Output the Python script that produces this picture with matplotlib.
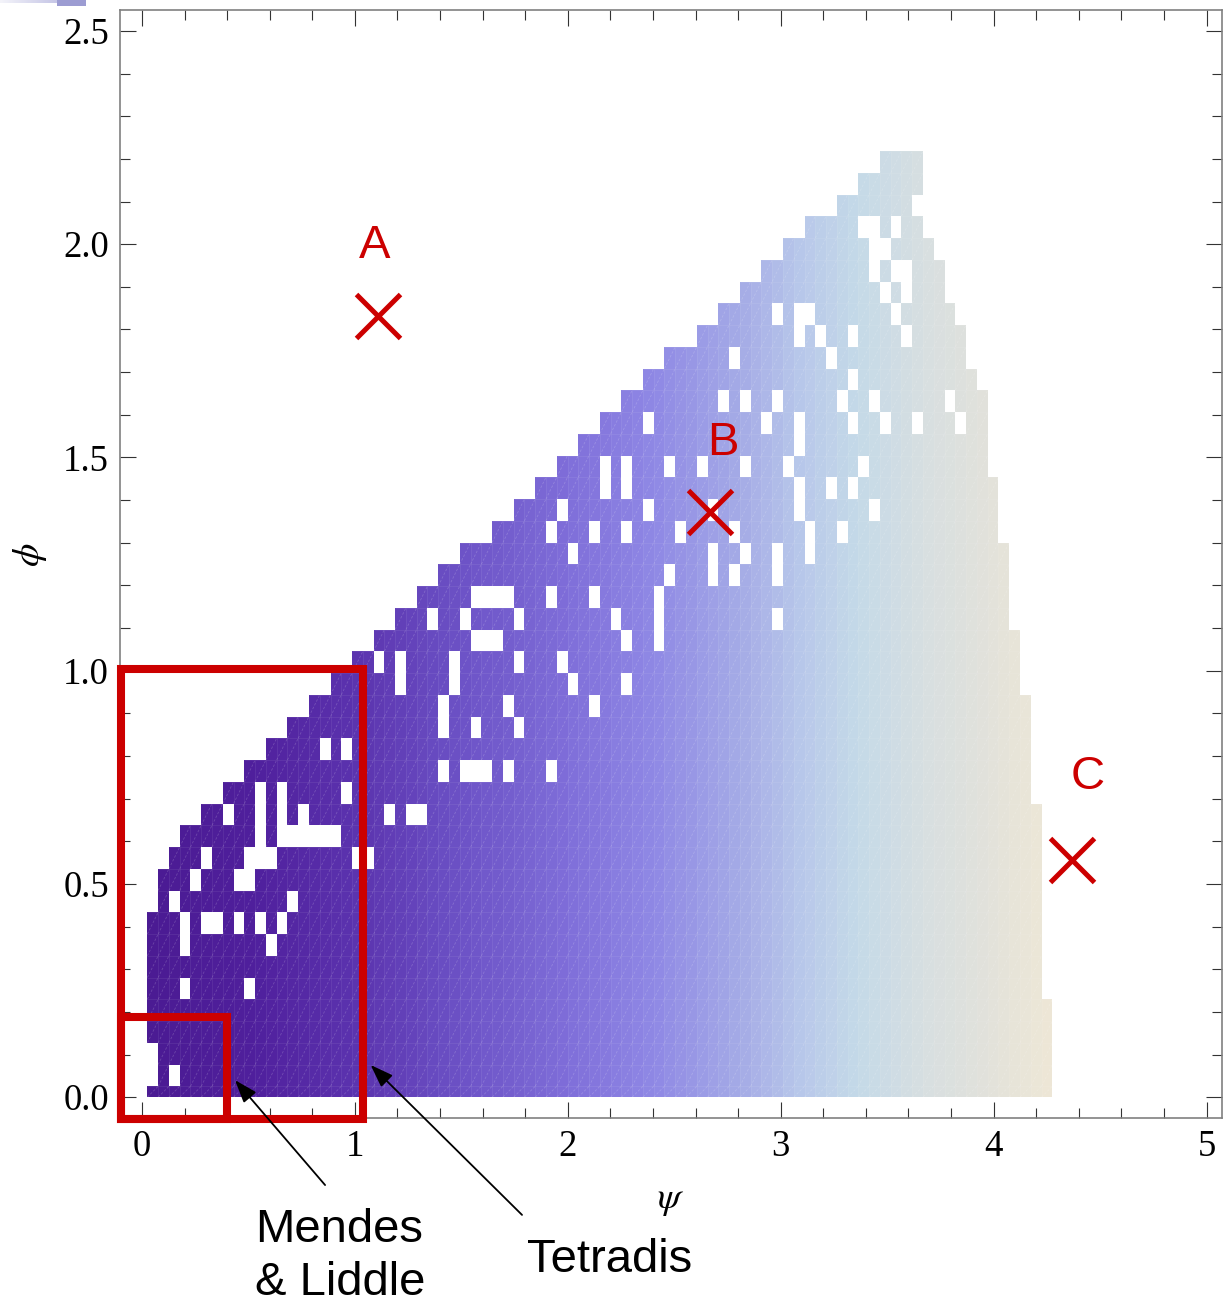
import numpy as np
import matplotlib
matplotlib.use("Agg")
import matplotlib.pyplot as plt
from matplotlib.colors import LinearSegmentedColormap, Normalize
from matplotlib.collections import LineCollection
from matplotlib.patches import Rectangle
from matplotlib.ticker import MultipleLocator, FormatStrFormatter

plt.rcParams["mathtext.fontset"] = "stix"

# grid spacing of the allowed-region scan (psi along x, phi along y)
DPSI = 0.0506
DPHI = 0.0510

# for each phi row j: first and last allowed psi column k
row_start = [1, 2, 2, 1, 1, 1, 1, 1, 1, 2, 2, 3, 4, 6, 8, 10, 12, 14, 16, 18, 20, 22,
             24, 26, 28, 30, 33, 35, 37, 39, 41, 43, 45, 47, 49, 52, 54, 56, 58, 60, 62,
             65, 67, 69]
row_end = [84, 84, 84, 84, 84, 83, 83, 83, 83, 83, 83, 83, 83, 83, 82, 82, 82, 82, 82,
           81, 81, 81, 80, 80, 80, 80, 79, 79, 79, 78, 78, 78, 78, 77, 76, 76, 75, 74,
           74, 73, 72, 71, 72, 72]

# points inside the band that failed the scan
holes_by_row = {
    1: [3],
    5: [4, 10],
    7: [4, 12],
    8: [4, 6, 7, 9, 11, 13],
    9: [3, 14],
    10: [5, 9, 10],
    11: [6, 10, 11, 12, 20, 21],
    12: [11, 13, 14, 15, 16, 17, 18],
    13: [8, 11, 13, 15, 23, 25, 26],
    14: [11, 13, 19],
    15: [28, 30, 31, 32, 34, 38],
    16: [17, 19],
    17: [28, 31, 35],
    18: [28, 34, 42],
    19: [24, 29, 40, 45],
    20: [22, 24, 29, 35, 39],
    21: [31, 32, 33, 45, 48],
    22: [27, 30, 35, 44, 48, 59],
    23: [31, 32, 33, 34, 38, 42, 48],
    24: [49, 53, 55, 59],
    25: [40, 53, 56, 59, 62],
    26: [38, 42, 45, 50, 55, 62, 65],
    27: [39, 47, 53, 61, 68],
    28: [43, 45, 61, 64, 66],
    29: [43, 45, 49, 52, 56, 60, 67],
    30: [61],
    31: [47, 58, 61, 66, 69, 72, 76],
    32: [54, 56, 59, 65, 68, 75],
    33: [66],
    34: [55, 64],
    35: [61, 63, 66, 71],
    36: [59, 61, 62, 70],
    37: [69, 71],
    38: [68, 70, 71],
    39: [68, 69],
    40: [67, 68, 70],
}

# colour ramp along psi
ramp_psi = [0.0, 0.5, 1.0, 1.5, 2.0, 2.4, 2.8, 3.1, 3.35, 3.7, 4.0, 4.3]
ramp_col = ["#4A1A92", "#4F1F9C", "#5B33AE", "#6C52C6", "#7F6ED9", "#8F88E5",
            "#A4AAE6", "#B8C8EA", "#C4D9E8", "#D8DFE0", "#E3E2DA", "#EEE7D6"]

# benchmark models
model_names = ["A", "B", "C"]
model_psi = [1.11, 2.67, 4.37]
model_phi = [1.832, 1.371, 0.555]
label_psi = [1.095, 2.728, 4.44]
label_phi = [1.967, 1.506, 0.723]

RED = "#CC0000"

n_rows = len(row_start)
n_cols = max(row_end) + 1
Z = np.full((n_rows, n_cols), np.nan)
for j in range(n_rows):
    for k in range(row_start[j], row_end[j] + 1):
        if k not in holes_by_row.get(j, []):
            Z[j, k] = k * DPSI

x_edges = (np.arange(n_cols + 1) - 0.5) * DPSI
y_edges = np.concatenate([[0.0], (np.arange(n_rows) + 0.5) * DPHI])

cmap = LinearSegmentedColormap.from_list(
    "band", list(zip(np.array(ramp_psi) / ramp_psi[-1], ramp_col)))
norm = Normalize(0, ramp_psi[-1])

fig = plt.figure(figsize=(12.24, 13.05), dpi=100)
ax = fig.add_axes([120 / 1224, 1 - 1118 / 1305, 1102 / 1224, 1108 / 1305])

ax.pcolormesh(x_edges, y_edges, np.ma.masked_invalid(Z), cmap=cmap, norm=norm,
              shading="flat", antialiased=False, linewidth=0, zorder=1)

# faint triangulation lines of the density mesh
segs, grid = [], []
for j in range(n_rows):
    for k in range(n_cols):
        if np.isnan(Z[j, k]):
            continue
        x0, x1 = x_edges[k], x_edges[k + 1]
        y0, y1 = y_edges[j], y_edges[j + 1]
        segs.append([(x0, y0), (x1, y1)])
        grid.append([(x0, y1), (x1, y1)])
        grid.append([(x1, y0), (x1, y1)])
ax.add_collection(LineCollection(segs, colors="white", alpha=0.18, linewidths=0.6,
                                 linestyles=(0, (3, 2)), zorder=2))
ax.add_collection(LineCollection(grid, colors="white", alpha=0.08, linewidths=0.6,
                                 zorder=2))

# boxes for the earlier searches
ax.add_patch(Rectangle((-0.1, -0.05), 1.137, 1.053, fill=False, ec=RED, lw=5.8,
                       joinstyle="miter", clip_on=False, zorder=5))
ax.add_patch(Rectangle((-0.1, -0.05), 0.498, 0.239, fill=False, ec=RED, lw=5.8,
                       joinstyle="miter", clip_on=False, zorder=5))

ax.plot(model_psi, model_phi, ls="none", marker="x", ms=32, mew=3.6, color=RED, zorder=6)
for name, x, y in zip(model_names, label_psi, label_phi):
    ax.text(x, y, name, color=RED, fontsize=34, family="Liberation Sans",
            ha="center", va="baseline", zorder=6)

arrow = dict(arrowstyle="-|>,head_length=0.7,head_width=0.25", color="black",
             lw=1.3, mutation_scale=20, shrinkA=0, shrinkB=0)
ax.annotate("", xy=(0.437, 0.040), xytext=(0.860, -0.206), arrowprops=arrow,
            annotation_clip=False, zorder=7)
ax.annotate("", xy=(1.074, 0.0755), xytext=(1.785, -0.276), arrowprops=arrow,
            annotation_clip=False, zorder=7)
ax.text(0.531, -0.340, "Mendes", fontsize=34, family="Liberation Sans",
        ha="left", va="baseline", clip_on=False)
ax.text(0.531, -0.463, "& Liddle", fontsize=34, family="Liberation Sans",
        ha="left", va="baseline", clip_on=False)
ax.text(1.808, -0.410, "Tetradis", fontsize=34, family="Liberation Sans",
        ha="left", va="baseline", clip_on=False)

ax.set_xlim(-0.1033, 5.0728)
ax.set_ylim(-0.0488, 2.5491)

ax.xaxis.set_major_locator(MultipleLocator(1))
ax.xaxis.set_minor_locator(MultipleLocator(0.2))
ax.yaxis.set_major_locator(MultipleLocator(0.5))
ax.yaxis.set_minor_locator(MultipleLocator(0.1))
ax.yaxis.set_major_formatter(FormatStrFormatter("%.1f"))
ax.xaxis.set_major_formatter(FormatStrFormatter("%d"))

ax.tick_params(which="both", direction="in", top=True, right=True,
               labeltop=False, labelright=False, color="#333333", width=0.8)
ax.tick_params(which="major", length=11.5, pad=8, labelsize=26.5)
ax.tick_params(which="minor", length=7)
for lab in ax.get_xticklabels() + ax.get_yticklabels():
    lab.set_family("Liberation Serif")
for sp in ax.spines.values():
    sp.set_color("#808080")
    sp.set_linewidth(1.2)

ax.set_xlabel(r"$\psi$", fontsize=27)
ax.set_ylabel(r"$\phi$", fontsize=27)
ax.xaxis.set_label_coords(0.5, -0.074)
ax.xaxis.label.set_va("center")
ax.yaxis.set_label_coords(-0.0817, 0.508)
ax.yaxis.label.set_va("center")

# sliver of the neighbouring panel along the top edge
strip = fig.add_axes([0, 1 - 3.5 / 1305, 57 / 1224, 3.5 / 1305])
strip.imshow(np.linspace(0, 1, 64)[None, :], aspect="auto",
             cmap=LinearSegmentedColormap.from_list("s", ["#F4F4FA", "#C6C6E6"]))
strip.axis("off")
fig.add_artist(Rectangle((57 / 1224, 1 - 6 / 1305), 29 / 1224, 6 / 1305,
                         transform=fig.transFigure, color="#9C9CD2", lw=0))

fig.savefig("out.png", dpi=100)
